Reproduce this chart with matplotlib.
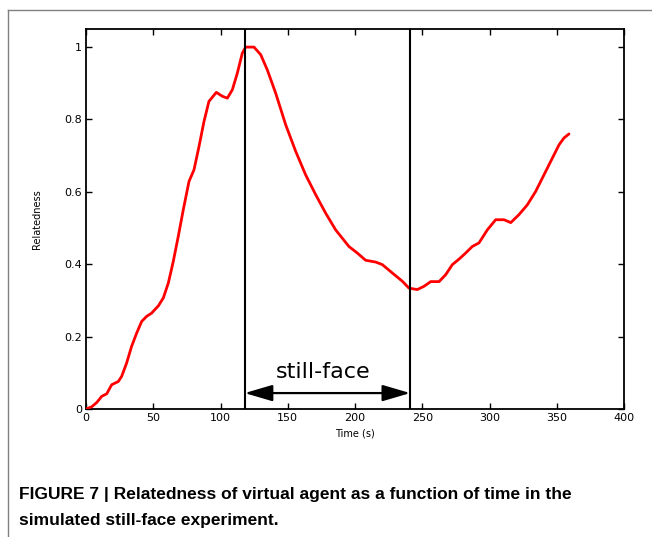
import matplotlib
matplotlib.use("Agg")
import matplotlib.pyplot as plt
from matplotlib.lines import Line2D

# relatedness curve
time_s = [0, 4.2, 8.0, 11.7, 15.4, 19.1, 24.0, 26.5, 30.2, 33.9, 37.7, 41.4,
          45.1, 48.8, 53.8, 57.5, 61.2, 64.9, 68.6, 72.3, 76.6, 80.3, 84.0,
          87.7, 91.4, 96.9, 101.4, 105.1, 108.8, 112.5, 116.2, 118.7, 124.9,
          129.9, 134.8, 141.0, 148.5, 155.9, 163.3, 170.8, 178.2, 185.6, 195.5,
          201.7, 207.9, 215.4, 220.3, 227.7, 235.2, 240.1, 246.3, 251.3, 256.3,
          262.5, 267.4, 272.4, 277.3, 282.3, 287.2, 292.2, 298.4, 304.6, 310.8,
          315.8, 321.9, 328.1, 334.3, 340.5, 346.7, 351.7, 355.4, 359.1]
relatedness = [0, 0.006, 0.018, 0.035, 0.042, 0.067, 0.076, 0.09, 0.127, 0.173,
               0.21, 0.242, 0.256, 0.265, 0.285, 0.307, 0.348, 0.408, 0.477,
               0.55, 0.629, 0.661, 0.725, 0.794, 0.85, 0.875, 0.864, 0.859,
               0.882, 0.928, 0.983, 1.0, 1.0, 0.979, 0.937, 0.873, 0.785, 0.712,
               0.647, 0.592, 0.541, 0.495, 0.449, 0.431, 0.411, 0.406, 0.399,
               0.376, 0.353, 0.334, 0.33, 0.339, 0.352, 0.352, 0.371, 0.399,
               0.414, 0.431, 0.449, 0.459, 0.495, 0.523, 0.523, 0.515, 0.537,
               0.564, 0.601, 0.647, 0.693, 0.73, 0.749, 0.76]

still_face_start = 118
still_face_end = 241
x_ticks = [0, 50, 100, 150, 200, 250, 300, 350, 400]
y_ticks = [0, 0.2, 0.4, 0.6, 0.8, 1.0]
y_tick_labels = ["0", "0.2", "0.4", "0.6", "0.8", "1"]

fig = plt.figure(figsize=(6.52, 5.37), dpi=100)
ax = fig.add_axes([86 / 652, 1 - 409 / 537, 538 / 652, 380 / 537])

ax.plot(time_s, relatedness, color="#ff0000", linewidth=2.0,
        solid_joinstyle="round", solid_capstyle="round", zorder=3)
ax.axvline(still_face_start, color="black", linewidth=1.5, zorder=4)
ax.axvline(still_face_end, color="black", linewidth=1.5, zorder=4)

ax.annotate("", xy=(still_face_start, 0.044), xytext=(still_face_end, 0.044),
            arrowprops=dict(arrowstyle="<|-|>,head_length=1.7,head_width=0.5",
                            color="black", lw=1.6, shrinkA=0, shrinkB=0))
ax.text((still_face_start + still_face_end) / 2 - 3, 0.103, "still-face",
        ha="center", va="center", fontsize=16)

ax.set_xlim(0, 400)
ax.set_ylim(0, 1.05)
ax.set_xticks(x_ticks)
ax.set_yticks(y_ticks)
ax.set_yticklabels(y_tick_labels)
ax.tick_params(direction="in", length=4, width=1, labelsize=8, top=True, right=True, pad=3)
for s in ax.spines.values():
    s.set_linewidth(1.3)
ax.set_xlabel("Time (s)", fontsize=7, labelpad=4)
ax.set_ylabel("Relatedness", fontsize=7, labelpad=16)

# grey frame of the journal figure
fig.add_artist(Line2D([8 / 652, 1], [1 - 10 / 537] * 2, color="#808080", lw=1.0,
                      transform=fig.transFigure))
fig.add_artist(Line2D([8 / 652] * 2, [0, 1 - 10 / 537], color="#808080", lw=1.0,
                      transform=fig.transFigure))

cap_font = ["Liberation Sans Narrow", "Liberation Sans"]
fig.text(19 / 652, 1 - 494 / 537,
         "FIGURE 7 | Relatedness of virtual agent as a function of time in the",
         fontsize=12.5, fontweight="bold", family=cap_font, va="center")
fig.text(19 / 652, 1 - 520 / 537, "simulated still-face experiment.",
         fontsize=12.5, fontweight="bold", family=cap_font, va="center")

fig.savefig("out.png", dpi=100)
